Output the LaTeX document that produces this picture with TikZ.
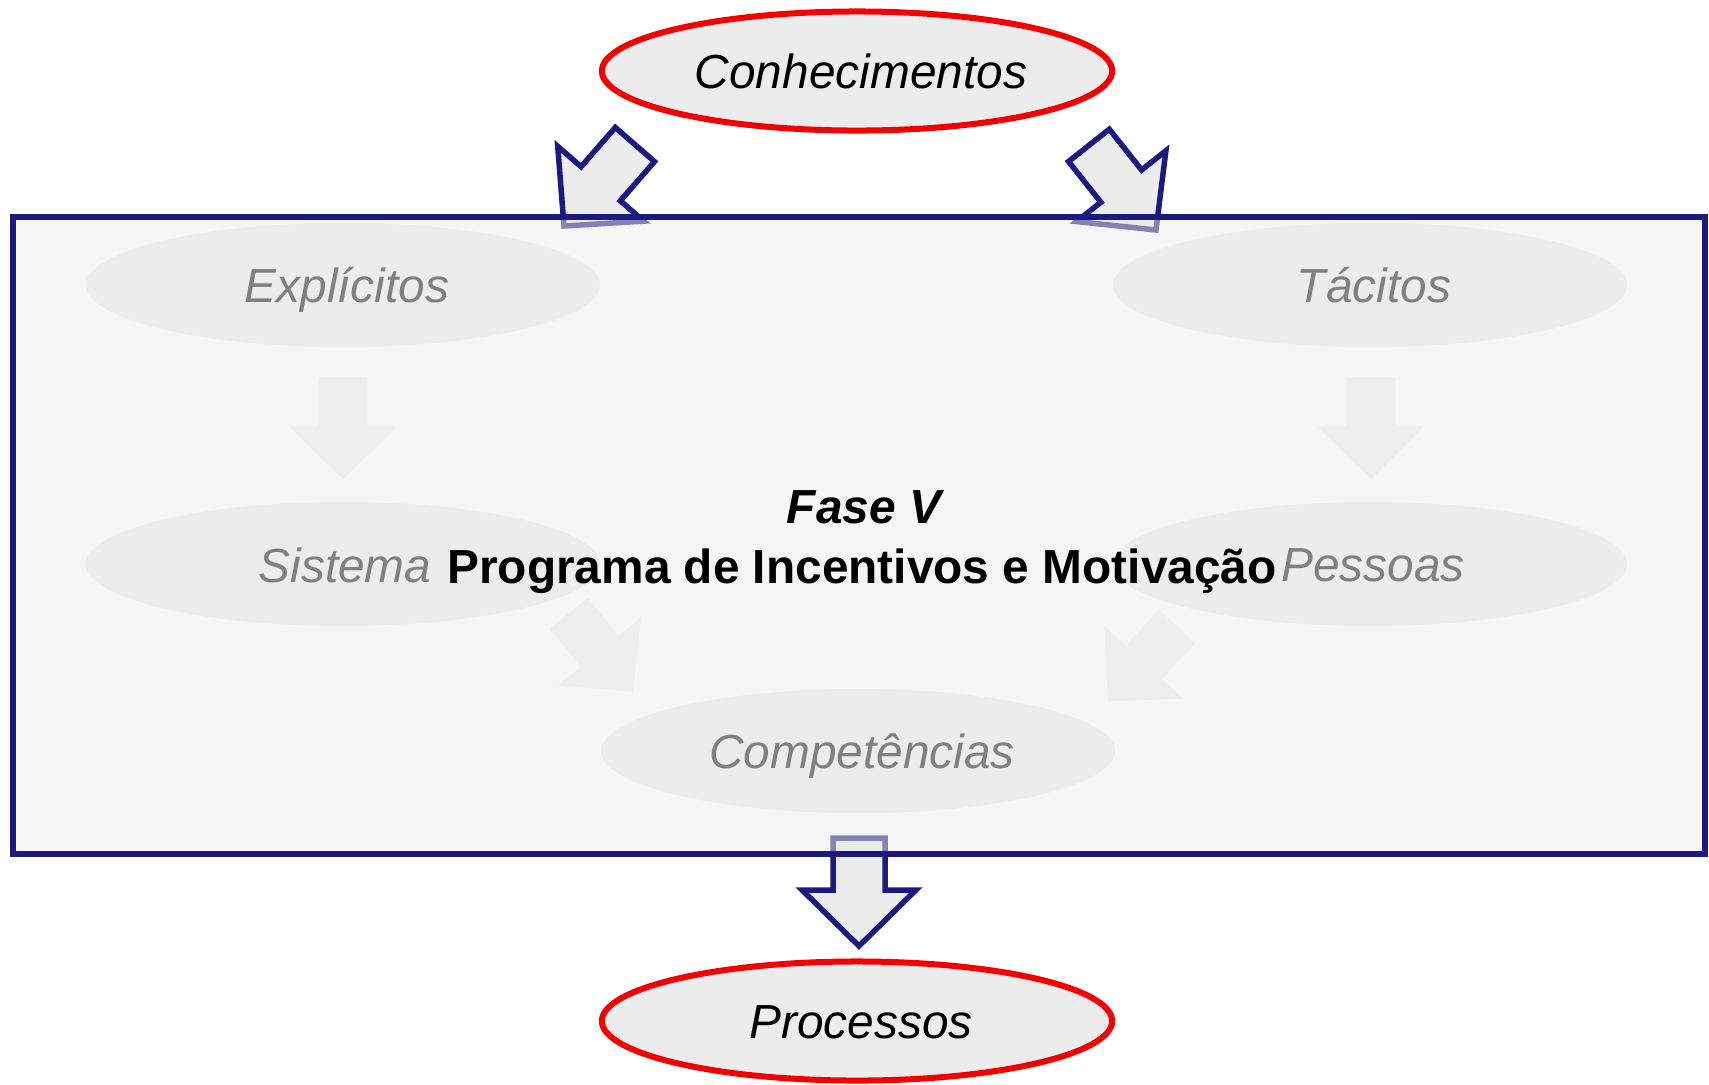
\documentclass[tikz,border=0pt]{standalone}
\usepackage{fontspec}
\setmainfont{Liberation Sans}
\usetikzlibrary{shapes.geometric}
\definecolor{navy}{RGB}{26,26,128}
\definecolor{redline}{RGB}{245,0,0}
\definecolor{ellfill}{RGB}{236,236,236}
\definecolor{boxfill}{RGB}{235,235,235}
\definecolor{fadetext}{RGB}{128,128,128}
\definecolor{fadearrow}{RGB}{238,238,238}
\begin{document}
\begin{tikzpicture}[x=0.01cm,y=-0.01cm,
    font=\fontsize{13.6}{16}\selectfont,
    mainell/.style={ellipse,draw=redline,line width=0.06cm,fill=ellfill,
      minimum width=5.1cm,minimum height=1.19cm,inner sep=0pt,
      text height=9.8pt,text depth=0pt,execute at begin node={\hspace*{0.08cm}},
      font=\fontsize{13.6}{16}\selectfont\itshape},
    innerell/.style={ellipse,fill=ellfill,minimum width=5.14cm,minimum height=1.24cm,
      inner sep=0pt,text height=9.8pt,text depth=0pt,text=fadetext,
      execute at begin node={\hspace*{0.08cm}},
      font=\fontsize{13.6}{16}\selectfont\itshape},
    bluearr/.style={draw=navy,line width=0.055cm,fill=ellfill,line join=miter},
    greyarr/.style={fill=fadearrow,scale=0.94},
    blockarr/.pic={\path[pic actions] (0,0) -- (-56,57) -- (-56,26) -- (-108,26)
      -- (-108,-26) -- (-56,-26) -- (-56,-57) -- cycle;}]
  \useasboundingbox (0,0) rectangle (1709,1084);
  % top and bottom
  \node[mainell] (conh) at (857,71) {Conhecimentos};
  \node[mainell] (proc) at (857,1021) {Processos};
  \pic[bluearr,rotate=-131] (inl) at (564,226) {blockarr};
  \pic[bluearr,rotate=-51.6] (inr) at (1156,230) {blockarr};
  \pic[bluearr,rotate=-90] (out) at (859,946) {blockarr};
  % phase box
  \draw[fill=boxfill,fill opacity=0.5,draw=navy,line width=0.055cm] (13,217) rectangle (1705,854);
  \begin{scope}
    \node[innerell] (expl) at (343,285) {Explícitos};
    \node[innerell] (taci) at (1370,285) {Tácitos};
    \node[innerell] (sist) at (343,564) {};
    \node[innerell] (pess) at (1370,564) {};
    \node[innerell] (comp) at (858,751) {Competências};
    \pic[greyarr,rotate=-90] (dl) at (343,479) {blockarr};
    \pic[greyarr,rotate=-90] (dr) at (1371,479) {blockarr};
    \pic[greyarr,rotate=-50.7] (sl) at (633,692) {blockarr};
    \pic[greyarr,rotate=-132.8] (sr) at (1108,701) {blockarr};
  \end{scope}
  \node[text=fadetext,font=\fontsize{13.6}{16}\selectfont\itshape] (sistt) at (345,565) {Sistema};
  \node[text=fadetext,font=\fontsize{13.6}{16}\selectfont\itshape] (pesst) at (1373,565) {Pessoas};
  \node[font=\fontsize{13.6}{16}\selectfont\bfseries\itshape] (fase) at (864,507) {Fase V};
  \node[font=\fontsize{13.6}{16}\selectfont\bfseries,text height=9.8pt,text depth=0pt] (prog) at (862,566) {Programa de Incentivos e Motivação};
\end{tikzpicture}
\end{document}
